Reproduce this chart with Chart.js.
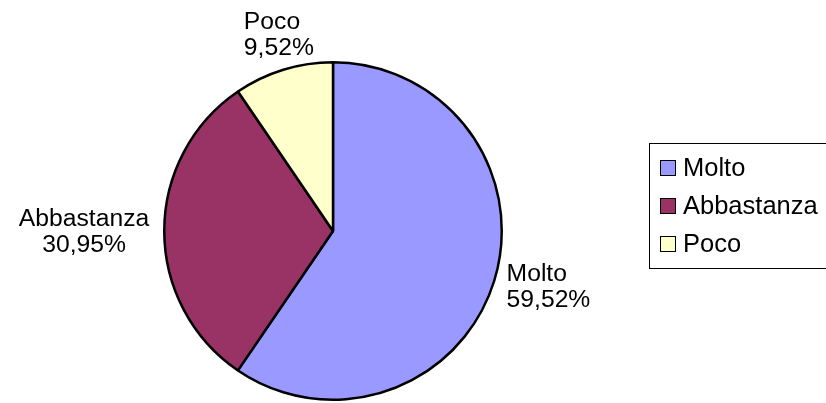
<!DOCTYPE html>
<html>
<head>
<meta charset="utf-8">
<script src="https://cdn.jsdelivr.net/npm/chart.js@4/dist/chart.umd.min.js"></script>
<style>
  html, body { margin: 0; padding: 0; background: #ffffff; }
  #wrap { width: 826px; height: 403px; position: relative; }
</style>
</head>
<body>
<div id="wrap"><canvas id="c" width="826" height="403"></canvas></div>
<script>
const categories = ['Molto', 'Abbastanza', 'Poco'];
const values = [59.52, 30.95, 9.52];
const colors = ['#9999FF', '#993366', '#FFFFCC'];

const FONT = '24.7px "Liberation Sans", Arial, sans-serif';
const LEGEND_FONT = '25.5px "Liberation Sans", Arial, sans-serif';
const fmtPct = v => v.toFixed(2).replace('.', ',') + '%';

const outsideLabels = {
  id: 'outsideLabels',
  afterDatasetsDraw(chart) {
    const ctx = chart.ctx;
    const meta = chart.getDatasetMeta(0);
    const ds = chart.data.datasets[0];
    ctx.save();
    ctx.font = FONT;
    ctx.fillStyle = '#000';
    ctx.textBaseline = 'alphabetic';
    const lineH = 26, capH = 17, gap = 15;
    meta.data.forEach((arc, i) => {
      const p = arc.getProps(['x', 'y', 'startAngle', 'endAngle', 'outerRadius'], true);
      const a = (p.startAngle + p.endAngle) / 2;
      const cx = Math.cos(a), sy = Math.sin(a);
      const d = p.outerRadius + gap;
      const ax = p.x + cx * d, ay = p.y + sy * d;
      const lines = [chart.data.labels[i], fmtPct(ds.data[i])];
      const widths = lines.map(l => ctx.measureText(l).width);
      const bw = Math.max(...widths);
      let left, hAlign;
      if (cx > 0.5) { left = ax - 2; hAlign = 'left'; }
      else if (cx < -0.5) { left = ax - bw; hAlign = 'center'; }
      else { left = ax - bw / 2; hAlign = 'left'; }
      const n = lines.length;
      let baselines;
      if (sy < -0.5) {
        baselines = lines.map((_, k) => ay - (n - 1 - k) * lineH);
      } else if (sy > 0.5) {
        baselines = lines.map((_, k) => ay + capH + k * lineH);
      } else {
        baselines = lines.map((_, k) => ay + (k - (n - 1) / 2) * lineH + capH / 2);
      }
      lines.forEach((l, k) => {
        const x = hAlign === 'center' ? left + (bw - widths[k]) / 2 : left;
        ctx.fillText(l, x, baselines[k]);
      });
    });
    ctx.restore();
  }
};

const boxLegend = {
  id: 'boxLegend',
  afterDraw(chart) {
    const ctx = chart.ctx;
    const ds = chart.data.datasets[0];
    ctx.save();
    ctx.strokeStyle = '#000';
    ctx.lineWidth = 1;
    ctx.strokeRect(649.5, 143.5, 200, 125);
    ctx.font = LEGEND_FONT;
    ctx.textBaseline = 'alphabetic';
    chart.data.labels.forEach((lab, i) => {
      const base = 176 + i * 38;
      ctx.fillStyle = ds.backgroundColor[i];
      ctx.fillRect(660, base - 16, 15, 15);
      ctx.strokeStyle = '#000';
      ctx.strokeRect(660.5, base - 15.5, 15, 15);
      ctx.fillStyle = '#000';
      ctx.fillText(lab, 683, base);
    });
    ctx.restore();
  }
};

new Chart(document.getElementById('c'), {
  type: 'pie',
  data: {
    labels: categories,
    datasets: [{
      data: values,
      backgroundColor: colors,
      borderColor: '#000000',
      borderWidth: 2.5
    }]
  },
  options: {
    responsive: false,
    animation: false,
    layout: { padding: { left: 163, top: 61, right: 323, bottom: 2 } },
    plugins: {
      legend: { display: false },
      tooltip: { enabled: false }
    }
  },
  plugins: [outsideLabels, boxLegend]
});
</script>
</body>
</html>
